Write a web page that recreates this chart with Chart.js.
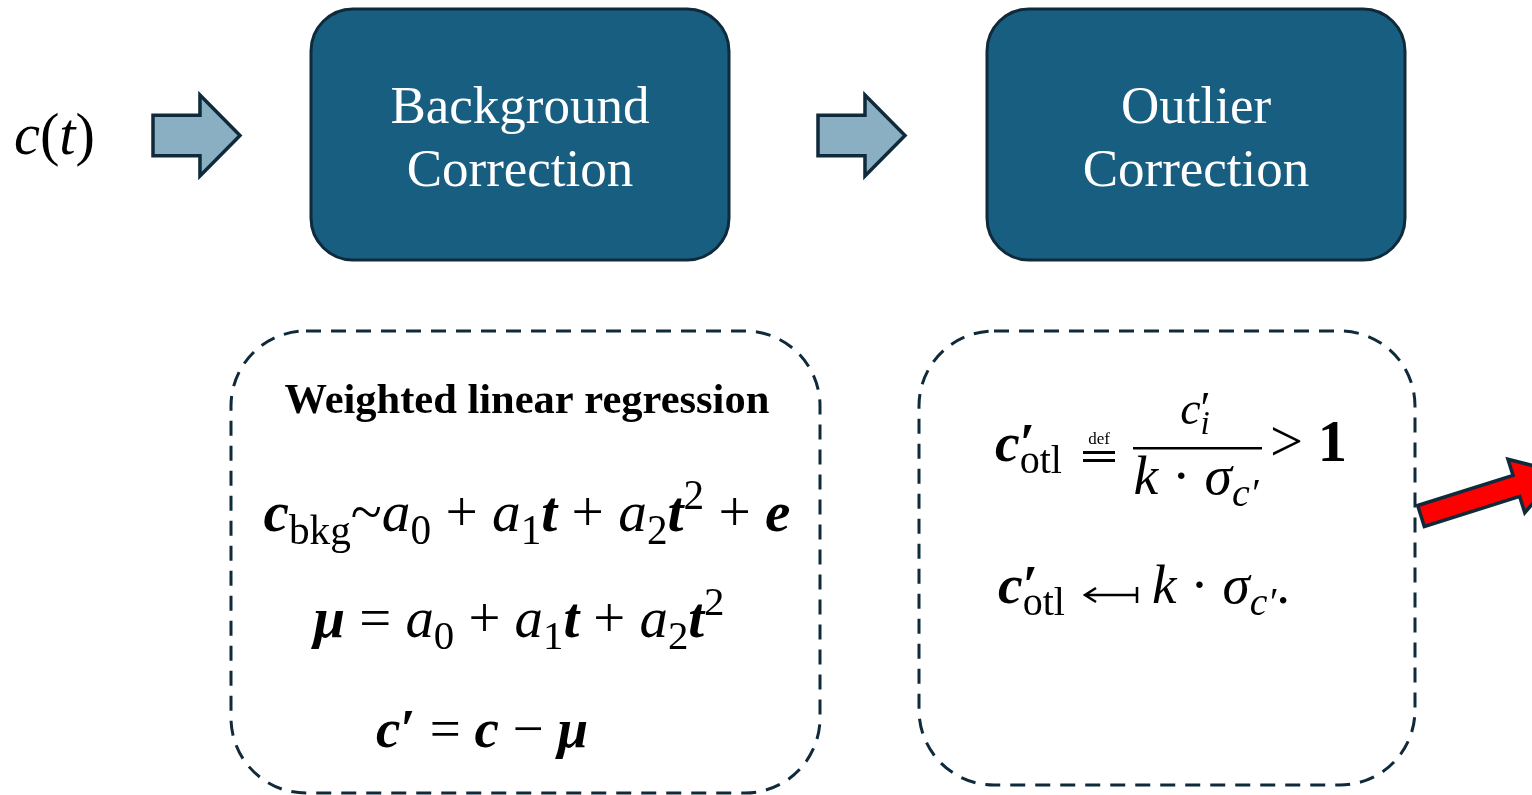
<!DOCTYPE html>
<html>
<head>
<meta charset="utf-8">
<script src="https://cdn.jsdelivr.net/npm/chart.js@4.4.1/dist/chart.umd.min.js"></script>
<style>
  html, body { margin: 0; padding: 0; background: #ffffff; }
  canvas { display: block; }
</style>
</head>
<body>
<canvas id="diagrama" width="1532" height="795"></canvas>
<script>
// conteudo do diagrama
const entrada = [{ t: "c", f: "i" }, { t: "(", f: "r" }, { t: "t", f: "i" }, { t: ")", f: "r" }];
const etapas = [["Background", "Correction"], ["Outlier", "Correction"]];
const tituloRegressao = "Weighted linear regression";

const eqFundo1 = [
    { t: "c", f: "bi" }, { t: "bkg", f: "r", s: "sub" }, { t: "~", f: "r" },
    { t: "a", f: "i" }, { t: "0", f: "r", s: "sub" }, { t: " + ", f: "r" },
    { t: "a", f: "i" }, { t: "1", f: "r", s: "sub" }, { t: "t", f: "bi" }, { t: " + ", f: "r" },
    { t: "a", f: "i" }, { t: "2", f: "r", s: "sub" }, { t: "t", f: "bi" }, { t: "2", f: "r", s: "sup" },
    { t: " + ", f: "r" }, { t: "e", f: "bi" },
];
const eqFundo2 = [
    { t: "μ", f: "bi" }, { t: " = ", f: "r" },
    { t: "a", f: "i" }, { t: "0", f: "r", s: "sub" }, { t: " + ", f: "r" },
    { t: "a", f: "i" }, { t: "1", f: "r", s: "sub" }, { t: "t", f: "bi" }, { t: " + ", f: "r" },
    { t: "a", f: "i" }, { t: "2", f: "r", s: "sub" }, { t: "t", f: "bi" }, { t: "2", f: "r", s: "sup" },
];
const eqFundo3 = [
    { t: "c", f: "bi" }, { t: "′", f: "b" }, { t: " = ", f: "r" },
    { t: "c", f: "bi" }, { t: " − ", f: "r" }, { t: "μ", f: "bi" },
];

const cOtl = [{ t: "c", f: "bi" }, { t: "′", f: "b", fica: true }, { t: "otl", f: "r", s: "sub" }];
const numerador = [{ t: "c", f: "i" }, { t: "′", f: "r", fica: true }, { t: "i", f: "i", s: "sub" }];
const denominador = [{ t: "k", f: "i" }, { t: " · ", f: "r" }, { t: "σ", f: "i" }, { t: "c′", f: "i", s: "sub" }];
const maiorQue = [{ t: "> ", f: "r" }, { t: "1", f: "b" }];
const atribuicao = [{ t: "k", f: "i" }, { t: " · ", f: "r" }, { t: "σ", f: "i" }, { t: "c′", f: "i", s: "sub" }, { t: ".", f: "r" }];

// disposicao (pixels)
const caixas = [
    { x: 311, y: 9, w: 418, h: 251 },
    { x: 987, y: 9, w: 418, h: 251 },
];
const setas = [
    { x: 153, y: 95, w: 87, h: 81 },
    { x: 818, y: 95, w: 87, h: 81 },
];
const tracejadas = [
    { x: 231, y: 331, w: 589, h: 462 },
    { x: 919, y: 331, w: 496, h: 454 },
];

const corCaixa = "#185e80";
const corBorda = "#0f2a3a";
const corSeta = "#8aafc2";
const serifa = '"Liberation Serif", "DejaVu Serif", serif';

function fonte(f, tam) {
    const estilo = f === "i" ? "italic " : f === "b" ? "bold " : f === "bi" ? "italic bold " : "";
    return estilo + tam + "px " + serifa;
}

function escreve(ctx, runs, x, y, tam, alinhar, largura) {
    let itens = runs.map((r) => {
        const fs = r.s ? tam * 0.72 : tam;
        ctx.font = fonte(r.f, fs);
        return { ...r, fs: fs, mw: ctx.measureText(r.t).width };
    });
    let total = 0;
    itens.forEach((it) => { if (!it.fica) total += it.mw; });

    if (largura) {
        const k = largura / total;
        tam = tam * k;
        itens = itens.map((it) => ({ ...it, fs: it.fs * k, mw: it.mw * k }));
        total = largura;
    }

    let px = alinhar === "center" ? x - total / 2 : x;
    ctx.textAlign = "left";
    ctx.textBaseline = "alphabetic";
    for (const it of itens) {
        ctx.font = fonte(it.f, it.fs);
        let dy = 0;
        if (it.s === "sub") dy = tam * 0.22;
        if (it.s === "sup") dy = -tam * 0.38;
        ctx.fillText(it.t, px, y + dy);
        if (!it.fica) px += it.mw;
    }
    return total;
}

function caixaArredondada(ctx, x, y, w, h, r) {
    ctx.beginPath();
    ctx.moveTo(x + r, y);
    ctx.lineTo(x + w - r, y);
    ctx.arcTo(x + w, y, x + w, y + r, r);
    ctx.lineTo(x + w, y + h - r);
    ctx.arcTo(x + w, y + h, x + w - r, y + h, r);
    ctx.lineTo(x + r, y + h);
    ctx.arcTo(x, y + h, x, y + h - r, r);
    ctx.lineTo(x, y + r);
    ctx.arcTo(x, y, x + r, y, r);
    ctx.closePath();
}

const desenhoDiagrama = {
    id: "desenhoDiagrama",
    afterDraw(chart) {
        const ctx = chart.ctx;
        const sx = chart.scales.x;
        const sy = chart.scales.y;
        const X = (v) => sx.getPixelForValue(v);
        const Y = (v) => sy.getPixelForValue(v);

        ctx.save();
        ctx.fillStyle = "#000";

        // c(t)
        escreve(ctx, entrada, X(14), Y(154), 46, "left", 81);

        // setas de bloco
        setas.forEach((s) => {
            const x0 = X(s.x), y0 = Y(s.y), w = s.w, h = s.h;
            const haste = w * 0.54;
            ctx.beginPath();
            ctx.moveTo(x0, y0 + h * 0.25);
            ctx.lineTo(x0 + haste, y0 + h * 0.25);
            ctx.lineTo(x0 + haste, y0);
            ctx.lineTo(x0 + w, y0 + h / 2);
            ctx.lineTo(x0 + haste, y0 + h);
            ctx.lineTo(x0 + haste, y0 + h * 0.75);
            ctx.lineTo(x0, y0 + h * 0.75);
            ctx.closePath();
            ctx.fillStyle = corSeta;
            ctx.fill();
            ctx.lineWidth = 3.5;
            ctx.lineJoin = "miter";
            ctx.strokeStyle = corBorda;
            ctx.stroke();
        });

        // caixas das etapas
        caixas.forEach((c, i) => {
            caixaArredondada(ctx, X(c.x), Y(c.y), c.w, c.h, 42);
            ctx.fillStyle = corCaixa;
            ctx.fill();
            ctx.lineWidth = 3;
            ctx.strokeStyle = corBorda;
            ctx.stroke();

            ctx.fillStyle = "#ffffff";
            ctx.font = "53px " + serifa;
            ctx.textAlign = "center";
            ctx.textBaseline = "alphabetic";
            const cx = X(c.x + c.w / 2);
            ctx.fillText(etapas[i][0], cx, Y(123));
            ctx.fillText(etapas[i][1], cx, Y(186));
        });

        // caixas tracejadas
        tracejadas.forEach((t) => {
            caixaArredondada(ctx, X(t.x), Y(t.y), t.w, t.h, 75);
            ctx.setLineDash([15, 10]);
            ctx.lineWidth = 3;
            ctx.strokeStyle = corBorda;
            ctx.stroke();
            ctx.setLineDash([]);
        });

        // regressao
        ctx.fillStyle = "#000";
        escreve(ctx, [{ t: tituloRegressao, f: "b" }], X(527), Y(413), 38, "center", 485);
        escreve(ctx, eqFundo1, X(527), Y(531), 44, "center", 527);
        escreve(ctx, eqFundo2, X(519), Y(637), 44, "center", 411);
        escreve(ctx, eqFundo3, X(482), Y(747), 44, "center", 212);

        // outlier
        escreve(ctx, cOtl, X(995), Y(461), 44, "left", 67);
        // igual com "def" por cima
        ctx.fillRect(X(1083), Y(451), 32, 3);
        ctx.fillRect(X(1083), Y(459), 32, 3);
        ctx.font = "17px " + serifa;
        ctx.textAlign = "center";
        ctx.fillText("def", X(1099), Y(444));
        escreve(ctx, numerador, X(1195), Y(424), 46, "center");
        ctx.fillRect(X(1133), Y(447), 129, 2.5);
        escreve(ctx, denominador, X(1196), Y(494), 44, "center", 125);
        escreve(ctx, maiorQue, X(1270), Y(461), 44, "left", 77);

        escreve(ctx, cOtl, X(998), Y(603), 44, "left", 67);
        // seta longa com barra
        ctx.strokeStyle = "#000";
        ctx.lineWidth = 2.5;
        ctx.beginPath();
        ctx.moveTo(X(1086), Y(595));
        ctx.lineTo(X(1137), Y(595));
        ctx.moveTo(X(1137), Y(587));
        ctx.lineTo(X(1137), Y(603));
        ctx.moveTo(X(1096), Y(588));
        ctx.lineTo(X(1085), Y(595));
        ctx.lineTo(X(1096), Y(602));
        ctx.stroke();
        escreve(ctx, atribuicao, X(1152), Y(603), 44, "left", 138);

        // seta vermelha
        const ang = -17.5 * Math.PI / 180;
        ctx.translate(X(1421), Y(516));
        ctx.rotate(ang);
        ctx.beginPath();
        ctx.moveTo(0, -11);
        ctx.lineTo(100, -11);
        ctx.lineTo(100, -28);
        ctx.lineTo(145, 0);
        ctx.lineTo(100, 28);
        ctx.lineTo(100, 11);
        ctx.lineTo(0, 11);
        ctx.closePath();
        ctx.fillStyle = "#ff0000";
        ctx.fill();
        ctx.lineWidth = 3.5;
        ctx.strokeStyle = corBorda;
        ctx.stroke();

        ctx.restore();
    },
};

new Chart(document.getElementById("diagrama"), {
    type: "scatter",
    data: {
        datasets: [
            {
                data: caixas.map((c) => ({ x: c.x + c.w / 2, y: c.y + c.h / 2 })),
                pointRadius: 0,
            },
        ],
    },
    options: {
        responsive: false,
        animation: false,
        devicePixelRatio: 1,
        layout: { padding: 0 },
        events: [],
        plugins: { legend: { display: false }, tooltip: { enabled: false } },
        scales: {
            x: { type: "linear", min: 0, max: 1532, display: false },
            y: { type: "linear", min: 0, max: 795, reverse: true, display: false },
        },
    },
    plugins: [desenhoDiagrama],
});
</script>
</body>
</html>
